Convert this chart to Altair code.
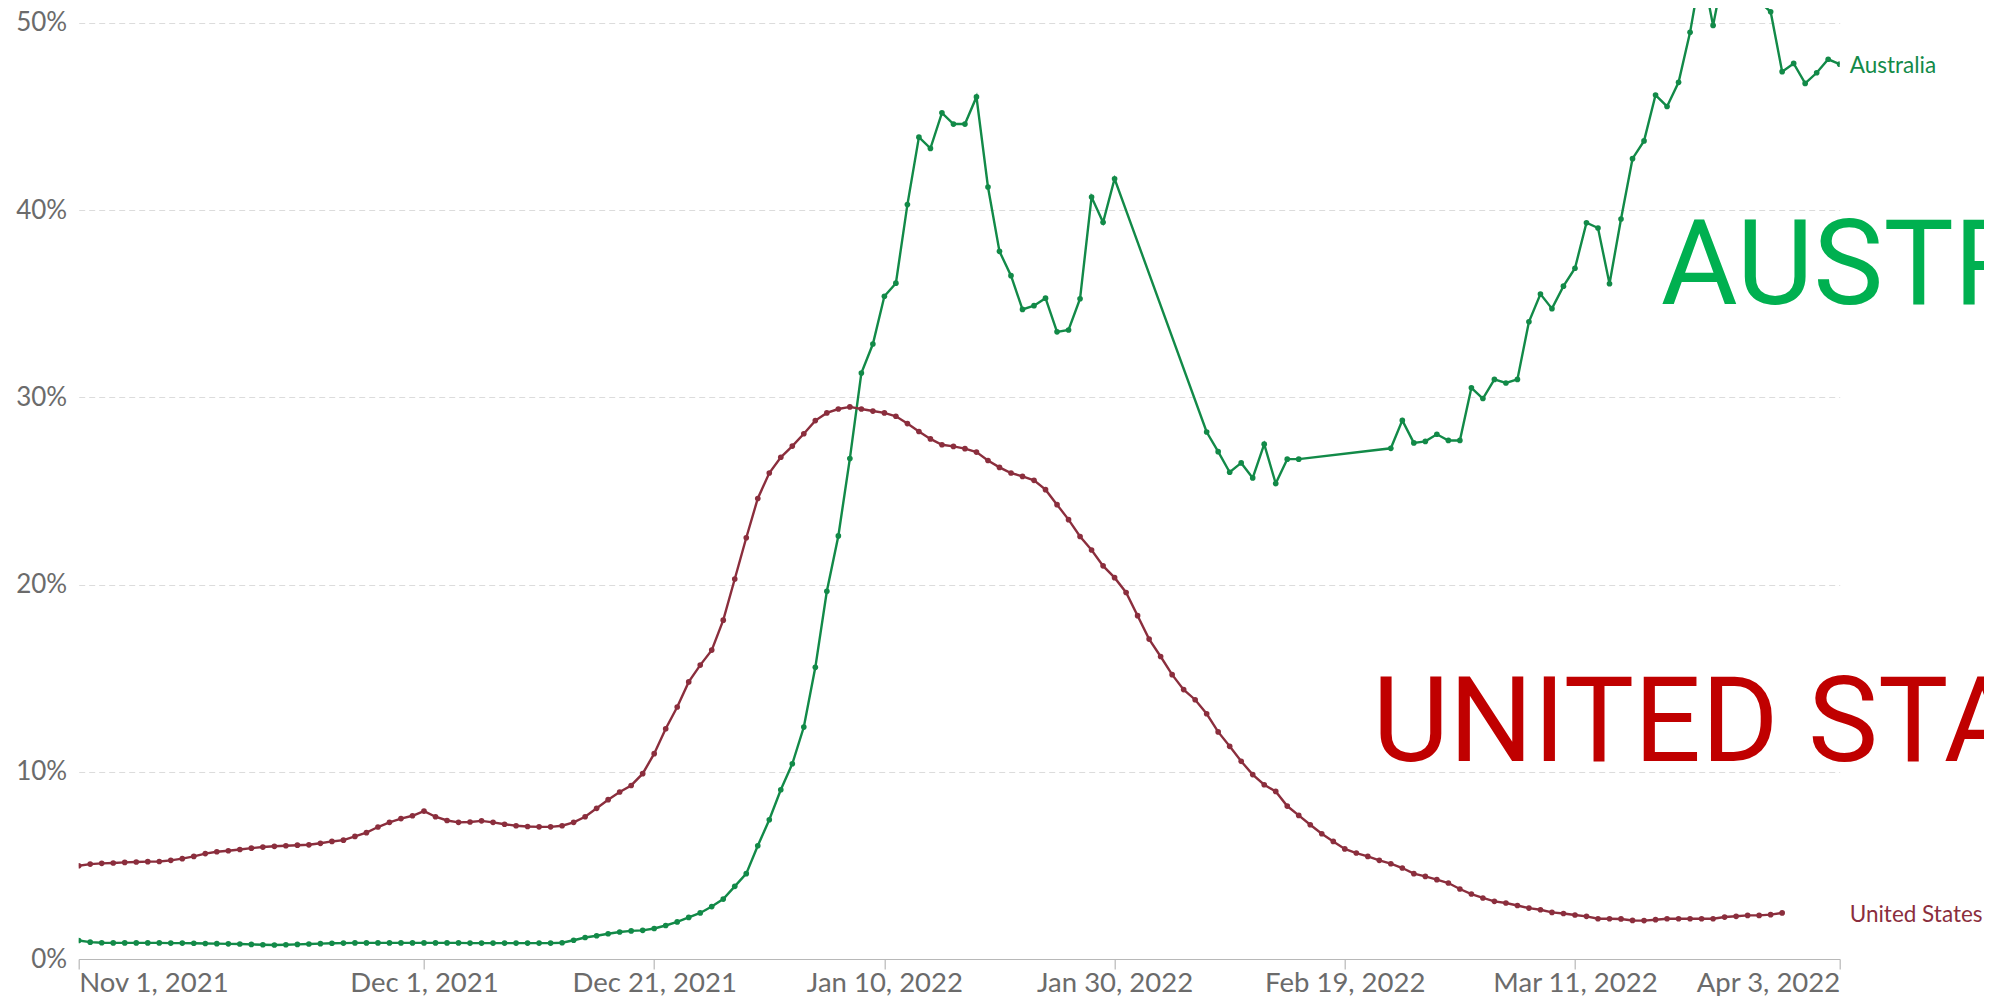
import altair as alt
import pandas as pd

# ---------------- data (share of COVID-19 tests that are positive, %) ----------------
us_start = "2021-11-01"
us_values = [
    4.98, 5.07, 5.11, 5.13, 5.16, 5.18, 5.20, 5.21, 5.27, 5.36,
    5.48, 5.63, 5.73, 5.78, 5.85, 5.92, 5.98, 6.02, 6.05, 6.08,
    6.10, 6.18, 6.28, 6.35, 6.55, 6.75, 7.05, 7.30, 7.50, 7.65,
    7.90, 7.60, 7.40, 7.30, 7.32, 7.38, 7.30, 7.20, 7.12, 7.08,
    7.06, 7.06, 7.12, 7.30, 7.60, 8.05, 8.51, 8.92, 9.27, 9.90,
    10.97, 12.30, 13.46, 14.80, 15.70, 16.50, 18.10, 20.30, 22.50, 24.60,
    25.96, 26.80, 27.40, 28.06, 28.76, 29.17, 29.38, 29.49, 29.38, 29.27,
    29.17, 28.99, 28.60, 28.18, 27.78, 27.47, 27.38, 27.26, 27.08, 26.63,
    26.26, 25.96, 25.78, 25.57, 25.07, 24.27, 23.47, 22.57, 21.85, 21.00,
    20.37, 19.58, 18.34, 17.09, 16.16, 15.19, 14.39, 13.85, 13.10, 12.13,
    11.36, 10.56, 9.85, 9.31, 8.95, 8.17, 7.67, 7.17, 6.69, 6.28,
    5.88, 5.66, 5.48, 5.27, 5.09, 4.86, 4.56, 4.41, 4.24, 4.06,
    3.74, 3.47, 3.26, 3.08, 2.99, 2.86, 2.72, 2.63, 2.49, 2.43,
    2.35, 2.28, 2.15, 2.15, 2.14, 2.06, 2.05, 2.10, 2.15, 2.15,
    2.15, 2.15, 2.15, 2.24, 2.28, 2.33, 2.33, 2.37, 2.46,
]

# Australia reports with gaps: three runs of consecutive days
au_runs = [("2021-11-01", "2022-01-30"), ("2022-02-07", "2022-02-15"), ("2022-02-23", "2022-04-03")]
au_values = [
    # Nov 1 2021 - Jan 30 2022
    0.99, 0.90, 0.87, 0.86, 0.86, 0.86, 0.86, 0.86, 0.85, 0.85,
    0.84, 0.83, 0.82, 0.81, 0.80, 0.78, 0.76, 0.75, 0.76, 0.78,
    0.80, 0.82, 0.84, 0.85, 0.86, 0.86, 0.86, 0.86, 0.86, 0.86,
    0.86, 0.86, 0.86, 0.86, 0.85, 0.85, 0.85, 0.85, 0.85, 0.85,
    0.85, 0.85, 0.87, 1.00, 1.15, 1.24, 1.35, 1.44, 1.50, 1.53,
    1.63, 1.79, 1.98, 2.22, 2.46, 2.80, 3.20, 3.88, 4.56, 6.05,
    7.44, 9.04, 10.43, 12.39, 15.58, 19.64, 22.60, 26.73, 31.30, 32.85,
    35.40, 36.10, 40.30, 43.90, 43.30, 45.20, 44.60, 44.60, 46.05, 41.24,
    37.80, 36.50, 34.70, 34.90, 35.30, 33.50, 33.60, 35.27, 40.70, 39.35,
    41.68,
    # Feb 7 - Feb 15
    28.15, 27.10, 26.00, 26.50, 25.70, 27.50, 25.40, 26.70, 26.70,
    # Feb 23 - Apr 3
    27.28, 28.77, 27.57, 27.65, 28.03, 27.70, 27.70, 30.51, 29.94, 30.96,
    30.77, 30.96, 34.04, 35.52, 34.74, 35.94, 36.90, 39.33, 39.05, 36.07,
    39.53, 42.75, 43.70, 46.15, 45.54, 46.83, 49.50, 53.00, 49.87, 53.00,
    50.97, 51.10, 51.15, 50.60, 47.40, 47.84, 46.77, 47.34, 48.06, 47.80,
]

countries = ["Australia", "United States"]
line_colors = ["#128a48", "#8b2e3d"]
tick_dates = ["2021-11-01", "2021-12-01", "2021-12-21", "2022-01-10",
              "2022-01-30", "2022-02-19", "2022-03-11", "2022-04-03"]
y_ticks = [0, 10, 20, 30, 40, 50]

big_labels = ["AUSTRALIA", "UNITED STATES"]
big_label_dates = ["2022-03-18T11:00:00", "2022-02-21T10:00:00"]
big_label_values = [35.0, 10.6]
big_label_colors = ["#00B050", "#C00000"]

# ---------------- build tables ----------------
us_dates = pd.date_range(us_start, periods=len(us_values), freq="D")
au_dates = []
for a, b in au_runs:
    au_dates.extend(pd.date_range(a, b, freq="D"))

df = pd.concat([
    pd.DataFrame({"date": [d.strftime("%Y-%m-%dT00:00:00") for d in au_dates],
                  "value": au_values, "country": "Australia"}),
    pd.DataFrame({"date": [d.strftime("%Y-%m-%dT00:00:00") for d in us_dates],
                  "value": us_values, "country": "United States"}),
], ignore_index=True)

end_labels = pd.DataFrame({
    "country": countries,
    "date": ["2022-04-03T00:00:00", "2022-04-03T00:00:00"],
    "value": [au_values[-1], us_values[-1]],
})

big = pd.DataFrame({"label": big_labels, "date": big_label_dates,
                    "value": big_label_values, "color": big_label_colors})


def dt(s):
    y, m, d = (int(p) for p in s.split("-"))
    return alt.DateTime(year=y, month=m, date=d)


x_scale = alt.Scale(domain=[dt("2021-11-01"), dt("2022-04-03")], nice=False)
y_scale = alt.Scale(domain=[0, 50.8], nice=False, zero=True)
color_scale = alt.Scale(domain=countries, range=line_colors)

x_enc = alt.X(
    "date:T", scale=x_scale, title=None,
    axis=alt.Axis(
        values=[dt(s) for s in tick_dates], format="%b %-d, %Y", labelFlush=True,
        grid=False, tickSize=10, tickColor="#b8b8b8", domainColor="#b8b8b8",
        domainWidth=1.2, tickWidth=1.2, labelColor="#6b6b6b", labelFont="Lato",
        labelFontSize=27.5, labelPadding=0, labelOverlap=False,
    ),
)
y_enc = alt.Y(
    "value:Q", scale=y_scale, title=None,
    axis=alt.Axis(
        values=y_ticks, labelExpr="datum.value + '%'", domain=False, ticks=False,
        grid=True, gridDash=[6, 4], gridColor="#dcdcdc", gridWidth=1.2,
        labelColor="#6b6b6b", labelFont="Lato", labelFontSize=26, labelPadding=12,
    ),
)
color_enc = alt.Color("country:N", scale=color_scale, legend=None)

base = alt.Chart(df)
lines = base.mark_line(strokeWidth=2.4, clip=True).encode(x=x_enc, y=y_enc, color=color_enc)
points = base.mark_circle(size=32, opacity=1, clip=True).encode(x="date:T", y="value:Q", color=color_enc)

labels = alt.Chart(end_labels).mark_text(
    align="left", baseline="middle", dx=10, dy=2, font="Lato", fontSize=22.5
).encode(x="date:T", y="value:Q", text="country:N", color=color_enc)

big_text = alt.Chart(big).mark_text(
    align="left", baseline="alphabetic", font="Roboto", fontSize=118
).encode(
    x="date:T", y="value:Q", text="label:N",
    color=alt.Color("color:N", scale=None),
)

chart = alt.layer(lines, points, labels, big_text).properties(
    width=1761, height=951,
    padding={"left": 70.7, "top": 0, "right": 144.3, "bottom": 37},
    autosize=alt.AutoSizeParams(type="none"),
    background="white",
).configure_view(stroke=None)

chart.save("out.html", embed_options={"renderer": "svg", "actions": False})
